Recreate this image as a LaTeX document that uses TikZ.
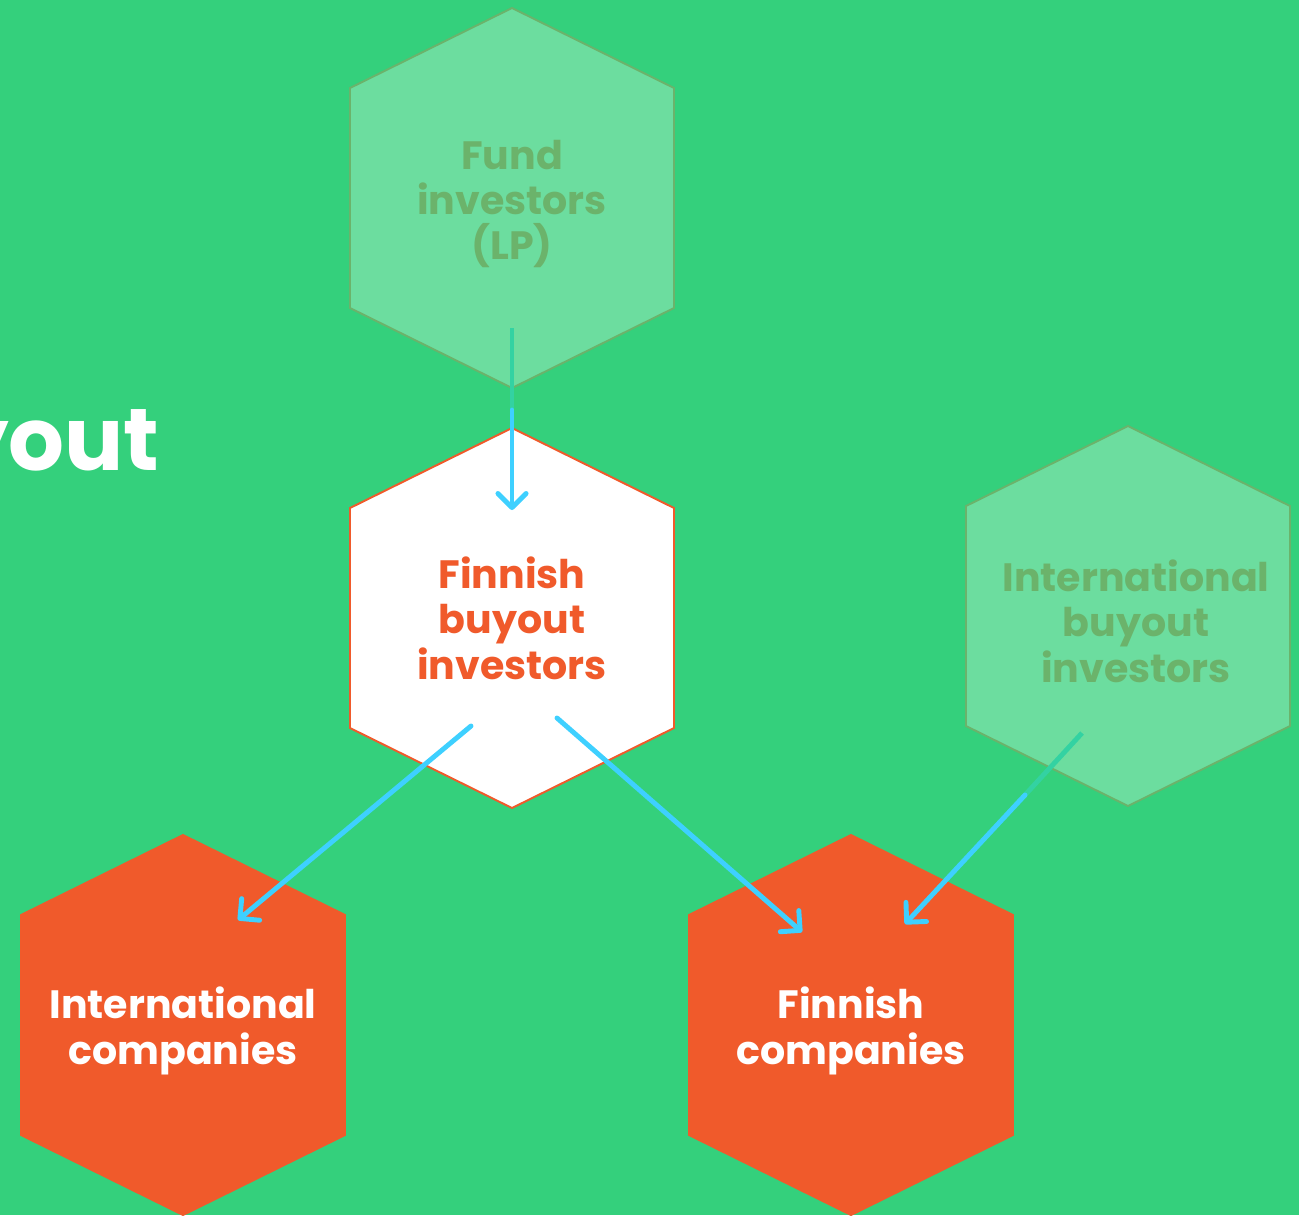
\documentclass[tikz,border=0pt]{standalone}
\usepackage{fontspec}
\setmainfont{Poppins}
\usetikzlibrary{calc,arrows.meta}

\definecolor{bggreen}{HTML}{34D07C}
\definecolor{fadefill}{HTML}{6CDD9F}
\definecolor{fadetext}{HTML}{6BB36B}
\definecolor{hexorange}{HTML}{F05A2B}
\definecolor{arrowcyan}{HTML}{3ED0FF}
\definecolor{arrowteal}{HTML}{33D2A2}

% hexagon round a named centre
\newcommand{\hexagon}[2]{%
  \draw[#1] ($(#2)+(0,-190)$) -- ($(#2)+(162,-110)$) -- ($(#2)+(162,110)$)
    -- ($(#2)+(0,190)$) -- ($(#2)+(-162,110)$) -- ($(#2)+(-162,-110)$) -- cycle;}

\tikzset{
  hexlabel/.style={align=center, inner sep=0pt,
    font=\fontsize{22.5}{25.8}\selectfont\bfseries},
  fadehex/.style={fill=fadefill, draw=fadetext, line width=1.1pt},
  mainhex/.style={fill=white, draw=hexorange, line width=1.1pt},
  companyhex/.style={fill=hexorange, draw=hexorange, line width=1.1pt},
  flow/.style={draw=arrowcyan, line width=2.8pt, line cap=round,
    -{Straight Barb[length=8pt,width=16pt,round]}},
  fadeflow/.style={draw=arrowteal, line width=2.8pt}
}

\begin{document}
\begin{tikzpicture}[x=0.02cm, y=-0.02cm]
  % Background
  \fill[bggreen] (0,0) rectangle (1299,1215);
  \useasboundingbox (0,0) rectangle (1299,1215);

  % Title (cut off at the left edge)
  \node[anchor=base east, inner sep=0pt, text=white,
    font=\fontsize{50}{56}\selectfont\bfseries] (title) at (160,470) {buyout};

  % Centres
  \coordinate (fund) at (512,198);
  \coordinate (fbi) at (512,618);
  \coordinate (ibi) at (1128,616);
  \coordinate (intco) at (183,1025);
  \coordinate (finco) at (851,1025);

  % Hexagons
  \hexagon{fadehex}{fund}
  \hexagon{mainhex}{fbi}
  \hexagon{fadehex}{ibi}
  \hexagon{companyhex}{intco}
  \hexagon{companyhex}{finco}

  % Labels
  \node[hexlabel, text=fadetext] (fundtext) at ($(fund)+(0,6)$) {Fund\\investors\\(LP)};
  \node[hexlabel, text=hexorange] (fbitext) at (fbi) {Finnish\\buyout\\investors};
  \node[hexlabel, text=fadetext] (ibitext) at ($(ibi)+(8,5)$) {International\\buyout\\investors};
  \node[hexlabel, text=white] (intcotext) at ($(intco)+(0,6)$) {International\\companies};
  \node[hexlabel, text=white] (fincotext) at ($(finco)+(0,6)$) {Finnish\\companies};

  % Fund investors -> Finnish buyout investors
  \draw[fadeflow] ($(fund)+(0,130)$) -- ($(fund)+(0,212)$);
  \draw[flow] ($(fund)+(0,212)$) -- ($(fbi)+(0,-108)$);

  % Finnish buyout investors -> companies
  \draw[flow] ($(fbi)+(-41,108)$) -- ($(intco)+(55,-105)$);
  \draw[flow] ($(fbi)+(45,100)$) -- ($(finco)+(-49,-93)$);

  % International buyout investors -> Finnish companies
  \draw[fadeflow] ($(ibi)+(-46,117)$) -- ($(ibi)+(-103,179)$);
  \draw[flow] ($(ibi)+(-103,179)$) -- ($(finco)+(54,-101)$);
\end{tikzpicture}
\end{document}
